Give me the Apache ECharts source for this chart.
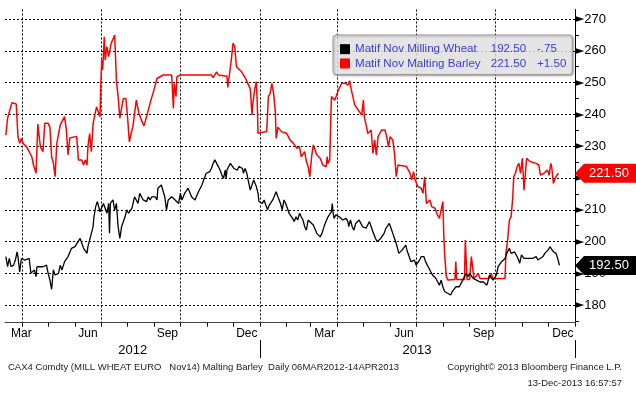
<!DOCTYPE html>
<html><head><meta charset="utf-8">
<script src="https://cdn.jsdelivr.net/npm/echarts@6/dist/echarts.min.js"></script>
<style>html,body{margin:0;padding:0;background:#fff}#c{width:636px;height:394px}</style>
</head><body><div id="c"></div>
<script>
// x axis: one category per calendar day, starting 2012-03-12, ending 2014-01-01
const START = [2012, 2, 12];
const SPAN_DAYS = 660;

const monthLabelDates = ['2012-03-31','2012-06-16','2012-09-16','2012-12-17','2013-03-17','2013-06-17','2013-09-17','2013-12-18'];
const monthLabelNames = ['Mar','Jun','Sep','Dec','Mar','Jun','Sep','Dec'];
const quarterStarts = ['2012-04-01','2012-07-01','2012-10-01','2013-01-01','2013-04-01','2013-07-01','2013-10-01'];
const yearLabelDates = ['2012-08-07','2013-07-02'];
const yearLabelNames = ['2012','2013'];
const yearBoundaries = ['2013-01-01','2014-01-01'];

const seriesNames = ['Matif Nov Milling Wheat','Matif Nov Malting Barley'];
const lastValues = ['192.50','221.50'];
const changes = ['-.75','+1.50'];

// [day index since 2012-03-12, price]
const wheat = [[1,195.3],[3,192.1],[5,194.7],[7,192.1],[10,192.6],[12,194.2],[14,196.8],[15,195.3],[17,190.5],[19,194.7],[23,194.2],[28,194.7],[30,190.0],[32,189.5],[34,191.1],[36,189.0],[37,192.1],[44,192.1],[48,192.6],[50,190.0],[52,187.9],[54,185.0],[56,191.1],[58,189.5],[62,190.0],[64,192.6],[66,191.1],[69,193.7],[73,195.3],[77,197.9],[81,198.4],[83,197.9],[87,201.0],[91,197.9],[95,196.3],[96,198.4],[100,202.6],[102,204.7],[103,207.8],[105,211.0],[107,212.6],[110,209.4],[114,212.0],[118,208.9],[120,212.0],[121,202.6],[122,212.0],[125,213.1],[127,209.9],[129,212.0],[131,204.7],[133,201.0],[135,204.7],[139,207.8],[141,210.0],[143,208.9],[147,210.5],[150,214.1],[152,213.1],[154,212.0],[156,215.2],[160,213.1],[162,213.6],[164,212.6],[166,214.1],[168,213.1],[170,214.1],[174,214.1],[176,213.1],[177,216.8],[179,217.3],[181,217.8],[183,217.3],[185,214.1],[187,210.0],[189,213.1],[193,214.1],[197,213.1],[201,212.0],[202,211.5],[203,215.2],[205,213.1],[208,215.2],[212,216.8],[216,214.1],[220,213.1],[224,215.7],[228,217.8],[230,219.4],[233,221.5],[237,222.0],[239,223.0],[241,224.6],[243,225.7],[245,225.5],[247,223.6],[249,222.5],[251,221.0],[253,219.9],[255,222.5],[256,219.9],[257,222.5],[261,224.6],[263,224.8],[265,223.0],[267,223.6],[269,222.5],[271,223.6],[273,224.1],[275,223.0],[276,221.5],[278,223.0],[280,221.5],[282,218.8],[284,216.2],[286,217.8],[288,219.4],[290,218.8],[291,217.3],[293,215.2],[294,212.6],[298,212.0],[300,213.1],[302,211.5],[304,210.0],[306,211.5],[310,213.1],[314,215.7],[316,214.1],[319,212.0],[321,210.0],[323,213.1],[325,212.0],[327,210.5],[329,208.9],[333,207.3],[335,206.3],[337,207.8],[339,206.8],[341,208.9],[343,207.8],[345,206.8],[347,204.7],[349,203.6],[351,206.8],[353,207.3],[357,205.2],[361,202.6],[365,201.5],[367,202.6],[370,205.2],[374,207.8],[376,208.4],[378,209.4],[379,212.0],[380,208.9],[381,207.3],[383,208.4],[385,208.9],[387,207.8],[391,206.8],[395,207.3],[397,206.3],[398,204.7],[400,206.8],[402,204.7],[404,203.6],[406,205.7],[410,206.8],[412,207.3],[414,204.7],[418,204.2],[422,206.3],[424,204.7],[426,203.1],[427,202.6],[429,201.0],[431,200.0],[435,201.0],[439,202.6],[441,204.2],[445,205.7],[447,204.2],[449,202.6],[451,201.0],[453,199.4],[454,198.4],[456,196.3],[458,195.8],[460,197.4],[464,198.9],[466,196.8],[468,195.3],[470,193.7],[472,193.2],[474,194.2],[476,192.6],[480,194.2],[482,195.3],[485,195.3],[487,193.7],[489,192.6],[491,192.1],[493,190.5],[495,189.5],[499,188.4],[501,187.9],[503,186.3],[505,187.9],[507,185.8],[509,184.3],[513,183.7],[514,184.3],[516,183.2],[518,184.3],[522,185.8],[524,185.2],[526,185.8],[528,186.3],[530,187.9],[532,189.0],[534,190.0],[536,189.0],[538,190.0],[542,188.4],[544,189.0],[546,187.9],[550,187.3],[554,187.3],[556,186.8],[558,186.3],[559,187.3],[561,189.5],[565,187.9],[567,188.4],[569,189.5],[571,192.1],[573,192.6],[575,193.7],[577,194.2],[579,194.7],[581,196.3],[583,195.8],[584,197.9],[586,196.3],[588,195.8],[590,196.8],[592,196.3],[594,194.7],[596,193.2],[598,195.8],[600,196.3],[601,194.7],[603,195.3],[607,194.7],[611,194.7],[615,195.3],[617,194.2],[619,194.7],[623,195.3],[625,196.3],[627,196.8],[629,197.4],[631,198.4],[633,198.6],[635,196.8],[637,197.4],[638,196.3],[640,194.7],[642,192.5]];

const barley = [[1,233.5],[3,238.8],[5,239.4],[8,243.7],[13,243.3],[15,233.0],[17,230.9],[19,232.4],[21,230.9],[25,229.8],[28,228.3],[31,226.7],[33,224.1],[36,221.5],[38,237.0],[41,229.8],[44,228.3],[46,237.2],[50,237.2],[52,236.0],[54,226.7],[56,224.8],[58,220.4],[60,230.9],[64,236.7],[69,239.3],[71,235.2],[73,227.3],[75,232.6],[83,233.1],[85,225.7],[89,225.7],[91,224.1],[93,225.7],[95,224.1],[96,229.8],[98,234.0],[100,228.3],[102,237.2],[106,242.4],[110,239.3],[111,249.8],[112,257.1],[113,254.0],[115,264.4],[116,257.1],[118,261.3],[120,258.2],[123,262.4],[127,265.0],[128,265.5],[129,250.8],[131,245.6],[133,238.8],[135,242.0],[137,245.0],[140,245.0],[142,238.8],[144,231.4],[146,234.0],[148,236.0],[152,244.5],[155,240.4],[159,237.5],[161,236.4],[165,240.4],[169,244.5],[173,248.2],[176,251.3],[183,252.4],[193,252.4],[195,241.9],[196,249.8],[198,245.6],[199,251.8],[203,252.4],[239,252.4],[241,251.6],[245,253.4],[247,252.4],[257,252.0],[258,248.5],[260,252.8],[262,257.1],[264,262.4],[266,261.3],[268,255.0],[274,253.4],[278,251.6],[282,249.2],[284,248.2],[286,239.8],[287,243.5],[289,247.7],[291,250.3],[292,244.5],[293,234.1],[303,234.6],[305,245.6],[307,246.6],[309,249.8],[311,246.6],[313,240.9],[314,232.5],[316,236.0],[320,234.6],[326,234.1],[330,232.0],[334,230.9],[338,229.3],[341,229.9],[343,226.7],[347,228.3],[349,225.1],[351,223.6],[353,220.4],[355,226.7],[357,230.4],[361,227.3],[365,226.2],[368,224.1],[372,223.6],[373,226.7],[374,224.6],[376,225.7],[377,236.1],[378,245.6],[382,244.5],[386,247.7],[390,249.8],[394,249.8],[397,249.2],[399,250.6],[401,247.7],[405,243.0],[409,241.4],[413,239.8],[414,239.3],[415,244.5],[416,239.3],[419,235.6],[420,234.0],[424,235.1],[426,227.8],[428,232.0],[430,227.3],[432,233.0],[436,235.1],[440,235.1],[442,233.0],[444,229.8],[446,233.0],[449,232.0],[451,227.8],[453,220.4],[455,224.1],[465,223.6],[469,221.5],[471,219.4],[473,222.0],[475,219.4],[478,217.3],[482,216.8],[484,215.2],[486,220.4],[488,212.0],[492,213.1],[494,211.0],[498,210.5],[500,208.9],[503,207.3],[507,212.6],[508,202.6],[509,196.3],[511,189.0],[513,187.9],[521,188.1],[522,193.7],[523,188.1],[532,188.1],[533,200.5],[535,188.1],[538,188.1],[540,195.3],[542,194.8],[543,188.4],[548,190.0],[550,188.4],[561,188.4],[563,190.0],[565,188.4],[579,188.4],[580,196.3],[582,200.5],[584,206.8],[586,207.8],[588,214.1],[589,220.4],[591,221.5],[593,223.6],[595,224.6],[597,221.5],[599,226.2],[601,216.2],[603,216.2],[604,226.2],[608,225.2],[615,224.6],[618,224.1],[620,220.9],[624,221.5],[626,220.9],[628,222.5],[630,220.9],[632,224.6],[633,223.6],[635,218.3],[637,219.9],[639,220.9],[640,221.5],[641,221.5]];

const days = [];
for (let i = 0; i <= SPAN_DAYS; i++) {
  days.push(new Date(Date.UTC(START[0], START[1], START[2] + i)).toISOString().slice(0, 10));
}

const FONT = '"Liberation Sans", Arial, sans-serif';
const TAG = 'path://M0,9.5 L9,0 L62,0 L62,19 L9,19 Z';
const dotted = [2, 2];

function tag(i, color) {
  return {
    symbol: TAG, symbolSize: [62, 19], symbolOffset: [31, 0], silent: true,
    itemStyle: {color: color},
    label: {show: true, formatter: lastValues[i], color: '#fff', fontSize: 13, fontFamily: FONT, offset: [3, 0]},
    data: [{coord: [days[SPAN_DAYS], parseFloat(lastValues[i])]}]
  };
}

const chart = echarts.init(document.getElementById('c'), null, {renderer: 'canvas'});
chart.setOption({
  animation: false,
  backgroundColor: '#fff',
  textStyle: {fontFamily: FONT},
  title: [
    {text: 'CAX4 Comdty (MILL WHEAT EURO   Nov14) Malting Barley  Daily 06MAR2012-14APR2013', left: 8, top: 362, padding: 0,
     textStyle: {fontSize: 9.5, fontWeight: 'normal', color: '#222', fontFamily: FONT}},
    {text: 'Copyright\u00a9 2013 Bloomberg Finance L.P.', right: 14, top: 362, padding: 0,
     textStyle: {fontSize: 9.5, fontWeight: 'normal', color: '#222', fontFamily: FONT}},
    {text: '13-Dec-2013 16:57:57', right: 14, top: 378, padding: 0,
     textStyle: {fontSize: 9.5, fontWeight: 'normal', color: '#222', fontFamily: FONT}}
  ],
  legend: {
    orient: 'vertical', left: 333, top: 35, padding: [7, 6, 4, 7], itemGap: 0,
    itemWidth: 10, itemHeight: 10, icon: 'rect', selectedMode: false,
    backgroundColor: 'rgba(240,240,240,0.78)', borderColor: '#999', borderWidth: 1, borderRadius: 3,
    shadowColor: 'rgba(0,0,0,0.35)', shadowBlur: 2, shadowOffsetX: 1, shadowOffsetY: 1,
    data: seriesNames,
    formatter: function (name) {
      const i = seriesNames.indexOf(name);
      return '{n|' + name + '}{v|' + lastValues[i] + '}{c|' + changes[i] + '}';
    },
    textStyle: {
      color: '#3b3bd9', fontSize: 11.6, fontFamily: FONT, lineHeight: 14.3,
      rich: {
        n: {width: 135.7, color: '#3b3bd9', fontSize: 11.6, fontFamily: FONT, lineHeight: 14.3},
        v: {width: 46.3, color: '#3b3bd9', fontSize: 11.6, fontFamily: FONT, lineHeight: 14.3},
        c: {width: 28, color: '#3b3bd9', fontSize: 11.6, fontFamily: FONT, lineHeight: 14.3}
      }
    }
  },
  grid: {left: 5, right: 61, top: 9.5, bottom: 71.3},
  xAxis: [{
    type: 'category', data: days, boundaryGap: false,
    axisLine: {show: true, lineStyle: {color: '#444', width: 1}},
    axisTick: {show: true, length: 4, interval: function (i, v) { return v.slice(8) === '01'; }, lineStyle: {color: '#000'}},
    axisLabel: {show: true, margin: 5, fontSize: 12, color: '#000', fontFamily: FONT,
      interval: function (i, v) { return monthLabelDates.indexOf(v) >= 0; },
      formatter: function (v) { return monthLabelNames[monthLabelDates.indexOf(v)]; }},
    splitLine: {show: true, interval: function (i, v) { return quarterStarts.indexOf(v) >= 0; },
      lineStyle: {color: '#000', width: 1, type: dotted}}
  }, {
    type: 'category', data: days, boundaryGap: false, position: 'bottom', offset: 17.3,
    axisLine: {show: false},
    axisTick: {show: true, length: 18, interval: function (i, v) { return yearBoundaries.indexOf(v) >= 0; }, lineStyle: {color: '#000'}},
    axisLabel: {show: true, margin: 4, fontSize: 13, color: '#000', fontFamily: FONT,
      interval: function (i, v) { return yearLabelDates.indexOf(v) >= 0; },
      formatter: function (v) { return yearLabelNames[yearLabelDates.indexOf(v)]; }},
    splitLine: {show: false}
  }],
  yAxis: {
    type: 'value', position: 'right', min: 174.5, max: 273, splitNumber: 10,
    axisLine: {show: true, lineStyle: {color: '#000', width: 1}},
    axisTick: {show: false},
    minorTick: {show: true, splitNumber: 2, length: 4, lineStyle: {color: '#000'}},
    axisLabel: {show: true, showMinLabel: false, showMaxLabel: false, margin: 0,
      formatter: function (v) { return '{t|\u25BA}{n|' + v + '}'; },
      rich: {
        t: {fontFamily: 'DejaVu Sans', fontSize: 12, color: '#000'},
        n: {fontFamily: FONT, fontSize: 13, color: '#000'}
      }},
    splitLine: {show: true, showMinLine: false, showMaxLine: false, lineStyle: {color: '#000', width: 1, type: dotted}}
  },
  series: [{
    name: seriesNames[0], type: 'line', data: wheat, showSymbol: false, symbol: 'none', z: 3,
    lineStyle: {color: '#000', width: 1.3}, itemStyle: {color: '#000'},
    markPoint: tag(0, '#000')
  }, {
    name: seriesNames[1], type: 'line', data: barley, showSymbol: false, symbol: 'none', z: 2,
    lineStyle: {color: '#ff0000', width: 1.5}, itemStyle: {color: '#ff0000'},
    markPoint: tag(1, '#ff0000')
  }]
});
</script></body></html>
